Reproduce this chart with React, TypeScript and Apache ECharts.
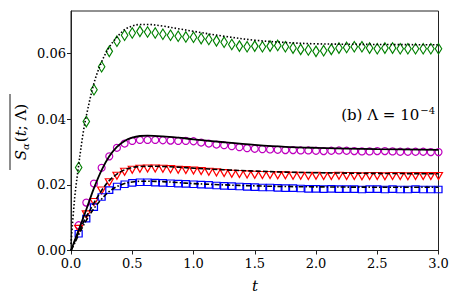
import React, { useEffect, useRef } from "react";
import * as echarts from "echarts";

// Sampling times of the simulation markers
const T_DATA = [
  0.0625, 0.125, 0.1875, 0.25, 0.3125, 0.375, 0.4375, 0.5, 0.5625, 0.625, 0.6875, 0.75,
  0.8125, 0.875, 0.9375, 1.0, 1.0625, 1.125, 1.1875, 1.25, 1.3125, 1.375, 1.4375, 1.5,
  1.5625, 1.625, 1.6875, 1.75, 1.8125, 1.875, 1.9375, 2.0, 2.0625, 2.125, 2.1875, 2.25,
  2.3125, 2.375, 2.4375, 2.5, 2.5625, 2.625, 2.6875, 2.75, 2.8125, 2.875, 2.9375, 3.0,
];

const DIAMONDS = [
  0.0253, 0.0393, 0.049, 0.056, 0.0607, 0.0638, 0.0656, 0.0663, 0.0668, 0.0666, 0.0663, 0.0659,
  0.0656, 0.0653, 0.0651, 0.065, 0.0646, 0.0643, 0.0639, 0.0635, 0.0628, 0.0623, 0.0621, 0.0623,
  0.0621, 0.0623, 0.0625, 0.0621, 0.0617, 0.0613, 0.0611, 0.0607, 0.0609, 0.0613, 0.0617, 0.0619,
  0.0621, 0.0621, 0.0617, 0.0615, 0.0617, 0.0617, 0.0615, 0.0615, 0.0615, 0.0615, 0.0615, 0.0615,
];

const CIRCLES = [
  0.0077, 0.0146, 0.0204, 0.0252, 0.0287, 0.0313, 0.0326, 0.0334, 0.0337, 0.0337, 0.0337, 0.0336,
  0.0335, 0.0334, 0.0334, 0.0333, 0.0329, 0.0326, 0.0323, 0.0321, 0.0318, 0.0315, 0.0312, 0.031,
  0.0309, 0.0308, 0.0307, 0.0306, 0.0306, 0.0305, 0.0305, 0.0304, 0.0303, 0.0304, 0.0305, 0.0304,
  0.0303, 0.0302, 0.0302, 0.0303, 0.0303, 0.0302, 0.0301, 0.0301, 0.0301, 0.0301, 0.0300, 0.0300,
];

const TRIANGLES = [
  0.0066, 0.011, 0.0148, 0.0183, 0.0208, 0.0228, 0.024, 0.0246, 0.0249, 0.025, 0.025, 0.0249,
  0.0248, 0.0246, 0.0245, 0.0244, 0.0242, 0.024, 0.0238, 0.0236, 0.0234, 0.0233, 0.0232, 0.0231,
  0.023, 0.023, 0.0229, 0.0229, 0.0228, 0.0228, 0.0227, 0.0228, 0.0227, 0.0227, 0.0228, 0.0227,
  0.0227, 0.0226, 0.0227, 0.0227, 0.0226, 0.0227, 0.0227, 0.0226, 0.0227, 0.0227, 0.0227, 0.0227,
];

const SQUARES = [
  0.0051, 0.0097, 0.0132, 0.0163, 0.0184, 0.0195, 0.0202, 0.0206, 0.0208, 0.0208, 0.0207, 0.0206,
  0.0205, 0.0204, 0.0203, 0.0202, 0.0201, 0.02, 0.0198, 0.0197, 0.0196, 0.0195, 0.0194, 0.0193,
  0.0192, 0.0192, 0.0191, 0.019, 0.019, 0.0189, 0.0188, 0.0188, 0.0187, 0.0188, 0.0187, 0.0187,
  0.0187, 0.0186, 0.0187, 0.0187, 0.0186, 0.0187, 0.0186, 0.0186, 0.0187, 0.0186, 0.0186, 0.0186,
];

// Theory curves
const T_THEORY = [
  0, 0.03, 0.0625, 0.1, 0.125, 0.1875, 0.25, 0.3125, 0.375, 0.4375, 0.5, 0.5625, 0.625, 0.75,
  0.875, 1.0, 1.25, 1.5, 1.75, 2.0, 2.5, 3.0,
];
const THEORY_DOTTED = [
  0.002, 0.016, 0.026, 0.036, 0.041, 0.051, 0.0575, 0.062, 0.065, 0.0673, 0.0684, 0.0689, 0.0689,
  0.0684, 0.0676, 0.0668, 0.0653, 0.0641, 0.0634, 0.063, 0.0628, 0.0627,
];
const THEORY_SOLID = [
  0, 0.003, 0.0062, 0.01, 0.0125, 0.019, 0.0245, 0.0287, 0.0316, 0.0334, 0.0344, 0.0349, 0.035,
  0.0348, 0.0344, 0.0339, 0.033, 0.0322, 0.0316, 0.0313, 0.0309, 0.0307,
];
const THEORY_DASHED = [
  0, 0.0027, 0.0055, 0.0085, 0.0103, 0.0145, 0.0183, 0.0213, 0.0233, 0.0246, 0.0253, 0.0256,
  0.0257, 0.0256, 0.0254, 0.0251, 0.0246, 0.0242, 0.0239, 0.0237, 0.0235, 0.0234,
];
const THEORY_DASHDOT = [
  0, 0.0022, 0.0048, 0.0075, 0.0092, 0.0128, 0.0157, 0.018, 0.0195, 0.0204, 0.0209, 0.0211,
  0.0211, 0.021, 0.0207, 0.0204, 0.02, 0.0197, 0.0195, 0.0194, 0.0193, 0.0193,
];

const X_TICKS = [0, 0.5, 1.0, 1.5, 2.0, 2.5, 3.0];
const Y_TICKS = [0, 0.02, 0.04, 0.06];

const FONT = "DejaVu Serif";

const pairs = (xs: number[], ys: number[]) => xs.map((x, i) => [x, ys[i]]);

export default function App() {
  const ref = useRef<HTMLDivElement>(null);
  useEffect(() => {
    if (!ref.current) return;
    const chart = echarts.init(ref.current, null, { renderer: "svg" });
    const axisColor = "#222";
    const markerSeries = (name: string, ys: number[], color: string, symbol: string, size: any, rotate = 0) => ({
      name,
      type: "scatter",
      data: pairs(T_DATA, ys),
      symbol,
      symbolSize: size,
      symbolRotate: rotate,
      z: 2,
      itemStyle: { color: "rgba(0,0,0,0)", borderColor: color, borderWidth: 1.2, opacity: 1 },
      emphasis: { disabled: true },
    });
    const lineSeries = (name: string, ys: number[], dash: any, width: number) => ({
      name,
      type: "line",
      data: pairs(T_THEORY, ys),
      showSymbol: false,
      smooth: 0.35,
      z: 3,
      lineStyle: { color: "#000", width, type: dash, cap: "butt" },
      emphasis: { disabled: true },
    });
    chart.setOption({
      animation: false,
      backgroundColor: "#fff",
      grid: {
        left: 71,
        right: 19.5,
        top: 11,
        bottom: 51.5,
        show: true,
        borderColor: axisColor,
        borderWidth: 1,
        backgroundColor: "transparent",
      },
      xAxis: {
        type: "value",
        min: 0,
        max: 3,
        interval: 0.5,
        axisLine: { show: true, lineStyle: { color: axisColor, width: 1 } },
        axisTick: { show: true, inside: false, length: 4, lineStyle: { color: axisColor, width: 1 }, customValues: X_TICKS },
        axisLabel: {
          customValues: X_TICKS,
          formatter: (v: number) => v.toFixed(1),
          fontFamily: FONT,
          fontSize: 13,
          color: "#000",
          margin: 6,
        },
        splitLine: { show: false },
      },
      yAxis: {
        type: "value",
        min: 0,
        max: 0.073,
        interval: 0.02,
        axisLine: { show: true, lineStyle: { color: axisColor, width: 1 } },
        axisTick: { show: true, inside: false, length: 4, lineStyle: { color: axisColor, width: 1 }, customValues: Y_TICKS },
        axisLabel: {
          customValues: Y_TICKS,
          formatter: (v: number) => v.toFixed(2),
          fontFamily: FONT,
          fontSize: 13,
          color: "#000",
          margin: 5,
        },
        splitLine: { show: false },
      },
      series: [
        markerSeries("diamonds", DIAMONDS, "#008000", "diamond", [6.5, 10.5]),
        markerSeries("circles", CIRCLES, "#bf00bf", "circle", 7),
        markerSeries("triangles", TRIANGLES, "#ff0000", "triangle", [8, 7], 180),
        markerSeries("squares", SQUARES, "#0000ff", "rect", [7, 6.5]),
        lineSeries("dotted", THEORY_DOTTED, [1.5, 2], 1.6),
        lineSeries("solid", THEORY_SOLID, "solid", 1.8),
        lineSeries("dashed", THEORY_DASHED, [5, 2.2], 1.6),
        lineSeries("dashdot", THEORY_DASHDOT, [5, 2, 1.5, 2], 1.6),
      ],
      graphic: [
        {
          type: "text",
          x: 255,
          y: 286,
          style: {
            text: "t",
            font: `italic 15px ${FONT}`,
            fill: "#000",
            align: "center",
            verticalAlign: "middle",
          },
        },
        {
          type: "text",
          x: 435,
          y: 115,
          style: {
            text: "{n|(b) Λ = 10}{sup|−4}",
            align: "right",
            verticalAlign: "middle",
            fill: "#000",
            rich: {
              n: { fontFamily: FONT, fontSize: 15, fill: "#000" },
              sup: { fontFamily: FONT, fontSize: 10, fill: "#000", padding: [0, 0, 9, 1] },
            },
          },
        },
        {
          type: "group",
          x: 21,
          y: 132,
          rotation: Math.PI / 2,
          children: [
            {
              type: "text",
              x: 0,
              y: 0,
              style: {
                text: "{i|S}{sub|α}{n|(}{i|t}{n|; Λ)}",
                align: "center",
                verticalAlign: "middle",
                fill: "#000",
                rich: {
                  i: { fontFamily: FONT, fontStyle: "italic", fontSize: 15, fill: "#000" },
                  n: { fontFamily: FONT, fontSize: 15, fill: "#000" },
                  sub: { fontFamily: FONT, fontStyle: "italic", fontSize: 10, fill: "#000", padding: [8, 1, 0, 0] },
                },
              },
            },
            {
              type: "line",
              shape: { x1: -38, y1: -11, x2: 38, y2: -11 },
              style: { stroke: "#000", lineWidth: 0.9 },
            },
          ],
        },
      ],
    });
    return () => chart.dispose();
  }, []);
  return (
    <div
      ref={ref}
      style={{ position: "fixed", left: 0, top: 0, width: 458, height: 302, background: "#fff" }}
    />
  );
}
